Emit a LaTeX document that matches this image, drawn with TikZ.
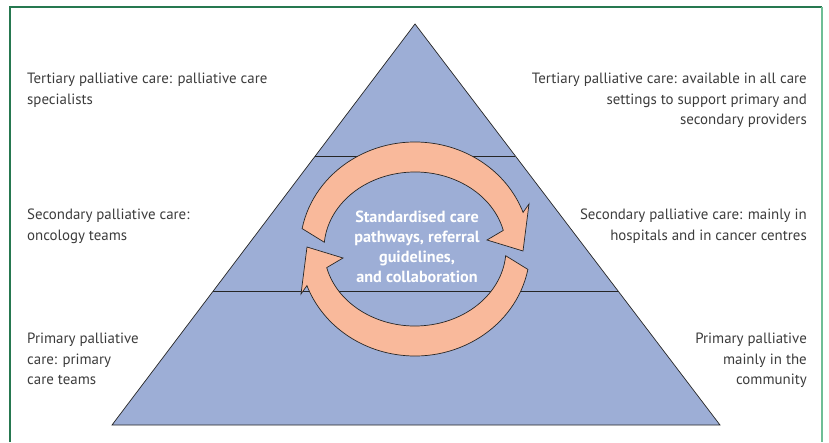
\documentclass[tikz,border=0pt]{standalone}
\usepackage{fontspec}
\setmainfont{PT Sans}
\usetikzlibrary{calc}

\definecolor{pyrblue}{RGB}{157,174,214}
\definecolor{ringorange}{RGB}{249,185,155}
\definecolor{framegreen}{RGB}{38,120,80}
\definecolor{framelight}{RGB}{110,190,150}
\definecolor{labelgrey}{RGB}{60,60,60}

\begin{document}
\begin{tikzpicture}[x=1pt,y=1pt,
  sidelabel/.style={inner sep=0pt,text=labelgrey,font=\fontsize{14.9}{20.5}\selectfont},
  ring/.style={fill=ringorange,draw=black!85,line width=0.7pt},
  level/.style={draw=black!85,line width=0.7pt}]
\useasboundingbox (0,0) rectangle (829,442);
% frame
\draw[framegreen,line width=1.2pt] (10,0) -- (10,435) -- (822,435);
\draw[framelight,line width=1.2pt] (822,435) -- (822,0);
% pyramid
\coordinate (apex) at (415,418);
\coordinate (bl) at (112,17);
\coordinate (br) at (720,17);
\draw[level,fill=pyrblue] (apex) -- (bl) -- (br) -- cycle;
\draw[level] ($(apex)!0.329!(bl)$) -- ($(apex)!0.329!(br)$);
\draw[level] ($(apex)!0.666!(bl)$) -- ($(apex)!0.666!(br)$);
% cycle arrows
\coordinate (c) at (415,193);
\foreach \turn in {0,180}{
  \begin{scope}[shift={(c)},rotate=\turn]
    \draw[ring] (169:115 and 107) arc[start angle=169,end angle=20,x radius=115,y radius=107]
      -- (114,45) -- (108,-2) -- (72,9) -- (14:91 and 77)
      arc[start angle=14,end angle=175,x radius=91,y radius=77] -- cycle;
  \end{scope}
}
% labels
\node[sidelabel,anchor=north west,align=left] (tertL) at (27,369)
  {Tertiary palliative care: palliative care\\specialists};
\node[sidelabel,anchor=north east,align=right] (tertR) at (807,369)
  {Tertiary palliative care: available in all care\\settings to support primary and\\secondary providers};
\node[sidelabel,anchor=north west,align=left] (secL) at (27,233)
  {Secondary palliative care:\\oncology teams};
\node[sidelabel,anchor=north east,align=right] (secR) at (807,233)
  {Secondary palliative care: mainly in\\hospitals and in cancer centres};
\node[sidelabel,anchor=north west,align=left] (primL) at (27,109)
  {Primary palliative\\care: primary\\care teams};
\node[sidelabel,anchor=north east,align=right] (primR) at (807,109)
  {Primary palliative\\mainly in the\\community};
\node[sidelabel,anchor=north,align=center,text=white,font=\fontsize{16.2}{20}\selectfont\bfseries] (pathways) at (417,231)
  {Standardised care\\pathways, referral\\guidelines,\\and collaboration};
\end{tikzpicture}
\end{document}
